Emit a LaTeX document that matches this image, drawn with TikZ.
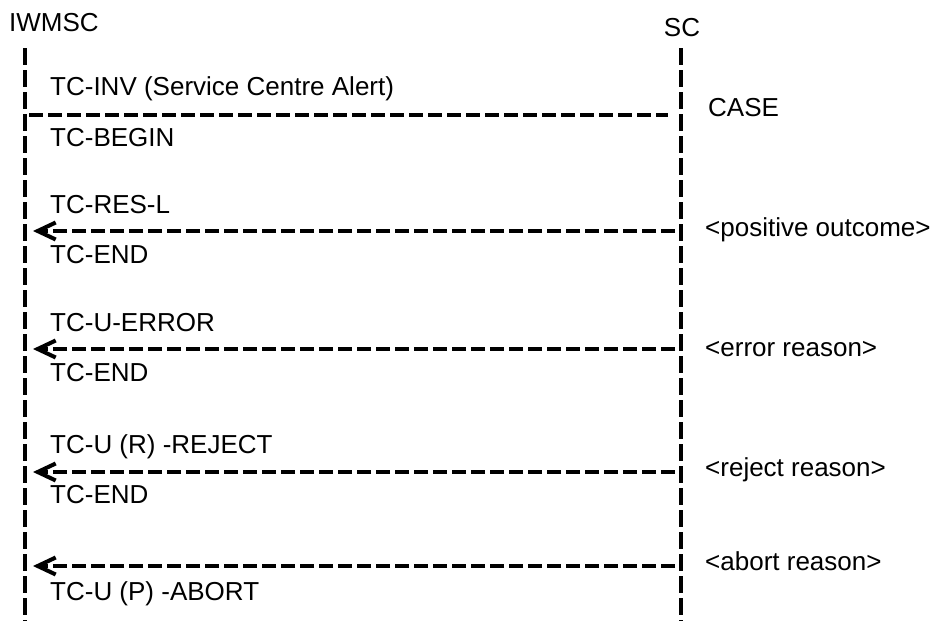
\documentclass[tikz,border=0pt]{standalone}
\usepackage{fontspec}
\setmainfont{Liberation Sans}
\usetikzlibrary{arrows.meta}
\begin{document}
\begin{tikzpicture}[x=1pt,y=-1pt,
  lifeline/.style={line width=4.3pt,dash pattern=on 17pt off 5pt},
  msgline/.style={line width=4pt,dash pattern=on 14pt off 5pt},
  msgarrow/.style={msgline,-{Straight Barb[length=18pt,width=17pt,line width=4pt]}},
  lbl/.style={anchor=base west,inner sep=0pt,font=\fontsize{26}{31}\selectfont}]
\useasboundingbox (0,0) rectangle (936,621);
% actors
\node[lbl] (iwmsc) at (9,31.5) {IWMSC};
\node[lbl,anchor=base] (sc) at (682,36.7) {SC};
% lifelines
\coordinate (Ltop) at (25,48);
\coordinate (Lbot) at (25,621);
\coordinate (Rtop) at (681,48);
\coordinate (Rbot) at (681,621);
\draw[lifeline] (Ltop) -- (Lbot);
\draw[lifeline] (Rtop) -- (Rbot);
% first message (no head)
\coordinate (m0s) at (29,115);
\coordinate (m0e) at (668,115);
\draw[msgline] (m0s) -- (m0e);
\node[lbl] (t0a) at (50,95) {TC-INV (Service Centre Alert)};
\node[lbl] (t0b) at (50,146.7) {TC-BEGIN};
\node[lbl] (case) at (708,116.7) {CASE};
% message 1
\coordinate (m1s) at (675,231);
\coordinate (m1e) at (33,231);
\draw[msgarrow] (m1s) -- (m1e);
\node[lbl] (t1a) at (50,213.3) {TC-RES-L};
\node[lbl] (t1b) at (50,263.3) {TC-END};
\node[lbl] (r1) at (705,236.7) {<positive outcome>};
% message 2
\coordinate (m2s) at (675,349);
\coordinate (m2e) at (33,349);
\draw[msgarrow] (m2s) -- (m2e);
\node[lbl] (t2a) at (50,331.3) {TC-U-ERROR};
\node[lbl] (t2b) at (50,381.5) {TC-END};
\node[lbl] (r2) at (705,356) {<error reason>};
% message 3
\coordinate (m3s) at (675,472);
\coordinate (m3e) at (33,472);
\draw[msgarrow] (m3s) -- (m3e);
\node[lbl] (t3a) at (50,453.3) {TC-U (R) -REJECT};
\node[lbl] (t3b) at (50,503.3) {TC-END};
\node[lbl] (r3) at (705,476.5) {<reject reason>};
% message 4
\coordinate (m4s) at (675,566);
\coordinate (m4e) at (33,566);
\draw[msgarrow] (m4s) -- (m4e);
\node[lbl] (t4a) at (50,600) {TC-U (P) -ABORT};
\node[lbl] (r4) at (705,570.5) {<abort reason>};
\end{tikzpicture}
\end{document}
